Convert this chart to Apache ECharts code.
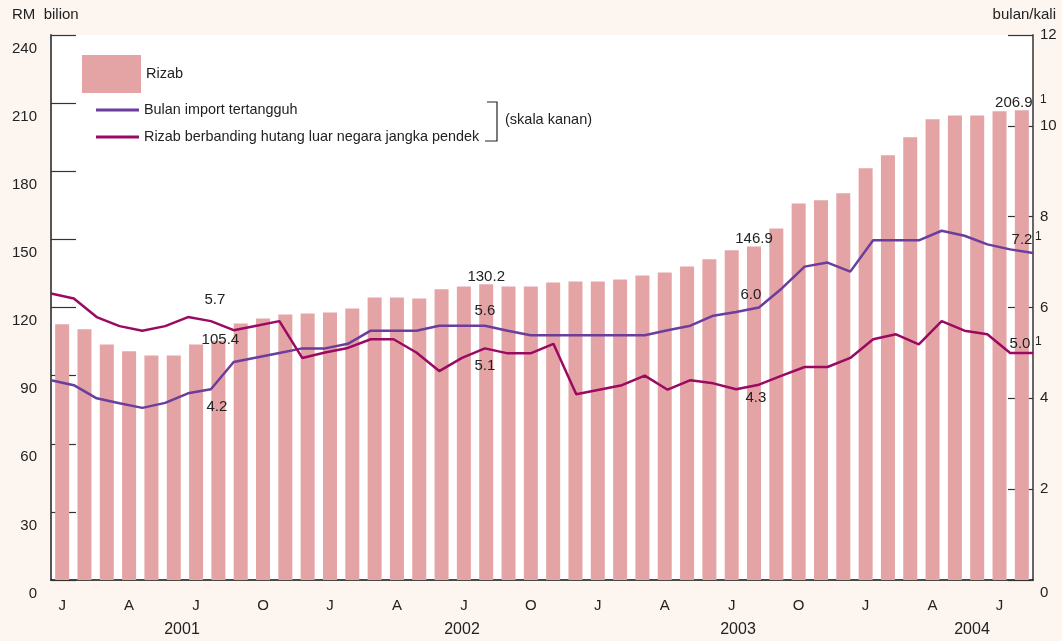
<!DOCTYPE html>
<html>
<head>
<meta charset="utf-8">
<script src="https://cdn.jsdelivr.net/npm/echarts@6/dist/echarts.min.js"></script>
<style>
    html, body { margin: 0; padding: 0; background: #fdf5ef; }
    #myChart { width: 1062px; height: 641px; }
</style>
</head>
<body>
<div id="myChart"></div>
<script>
// monthly, Jan 2001 - Aug 2004
var months = ['J', 'F', 'M', 'A', 'M', 'J', 'J', 'A', 'S', 'O', 'N', 'D'];
var years = ['2001', '2002', '2003', '2004'];
var monthCount = 44;

// RM bilion (left scale)
var rizab = [112.6, 110.4, 103.7, 100.7, 98.9, 98.9, 103.7, 105.4, 113.0, 115.2, 116.9, 117.4,
    117.8, 119.6, 124.4, 124.4, 124.0, 128.0, 129.2, 130.2, 129.2, 129.2, 131.0, 131.5,
    131.5, 132.3, 134.1, 135.4, 138.1, 141.2, 145.2, 146.9, 154.8, 165.8, 167.2, 170.3,
    181.3, 187.1, 195.0, 202.9, 204.6, 204.6, 206.4, 206.9];

// bulan / kali (right scale)
var bulanImport = [4.40, 4.29, 4.00, 3.89, 3.79, 3.90, 4.11, 4.20, 4.80, 4.90, 5.00, 5.10,
    5.10, 5.20, 5.49, 5.49, 5.49, 5.60, 5.60, 5.60, 5.49, 5.39, 5.39, 5.39,
    5.39, 5.39, 5.39, 5.50, 5.60, 5.82, 5.90, 6.00, 6.42, 6.90, 6.99, 6.79,
    7.48, 7.48, 7.48, 7.69, 7.58, 7.39, 7.28, 7.20];

var rizabHutang = [6.31, 6.20, 5.79, 5.59, 5.49, 5.59, 5.79, 5.70, 5.50, 5.60, 5.70, 4.89,
    5.01, 5.11, 5.30, 5.30, 5.01, 4.60, 4.89, 5.10, 4.99, 4.99, 5.20, 4.09,
    4.19, 4.29, 4.50, 4.19, 4.40, 4.33, 4.20, 4.30, 4.50, 4.69, 4.69, 4.89,
    5.30, 5.41, 5.19, 5.70, 5.49, 5.41, 5.00, 5.00];

var FONT = '"Liberation Sans", Arial, sans-serif';

function get_categories() {
    var cats = [];
    for (var i = 0; i < monthCount; i++) {
        cats.push(years[Math.floor(i / 12)] + '-' + (i % 12));
    }
    return cats;
}

// attach labels to the few annotated points
function with_labels(values, labelAt) {
    var out = [];
    for (var i = 0; i < values.length; i++) {
        var item = {value: values[i]};
        if (labelAt[i]) {
            item.label = Object.assign({
                show: true,
                color: '#222',
                fontSize: 15,
                fontFamily: FONT,
                formatter: function (p) { return p.value.toFixed(1); }
            }, labelAt[i]);
        }
        out.push(item);
    }
    return out;
}

function create_image() {
    var myChart = echarts.init(document.getElementById('myChart'));
    var categories = get_categories();

    var option = {
        backgroundColor: '#fdf5ef',
        animation: false,
        textStyle: {fontFamily: FONT},
        grid: {
            left: 51, right: 29, top: 35, bottom: 61,
            show: true, backgroundColor: '#fff', borderWidth: 0
        },
        legend: [{
            data: ['Rizab'],
            left: 77, top: 50,
            itemWidth: 59, itemHeight: 38,
            icon: 'rect',
            selectedMode: false,
            textStyle: {fontSize: 14.5, color: '#222', fontFamily: FONT}
        }, {
            data: ['Bulan import tertangguh', 'Rizab berbanding hutang luar negara jangka pendek'],
            orient: 'vertical',
            left: 91, top: 98,
            itemWidth: 43, itemHeight: 3, itemGap: 13,
            icon: 'rect',
            selectedMode: false,
            textStyle: {fontSize: 14.4, color: '#222', fontFamily: FONT}
        }],
        xAxis: [{
            type: 'category',
            data: categories,
            boundaryGap: true,
            axisLine: {lineStyle: {color: '#111', width: 1.5}},
            axisTick: {show: false},
            axisLabel: {
                interval: 2,
                margin: 18,
                fontSize: 15,
                color: '#222',
                formatter: function (v) { return months[parseInt(v.split('-')[1], 10)]; }
            }
        }, {
            type: 'category',
            data: categories,
            boundaryGap: false,
            show: false
        }],
        yAxis: [{
            type: 'value',
            position: 'left',
            min: 0, max: 240, interval: 30,
            splitLine: {show: false},
            axisLine: {show: true, lineStyle: {color: '#555', width: 2}},
            axisTick: {show: true, inside: true, length: 25, lineStyle: {color: '#333', width: 1.2}},
            axisLabel: {
                margin: 14, fontSize: 15, color: '#222',
                verticalAlign: 'top', padding: [6, 0, 0, 0]
            }
        }, {
            type: 'value',
            position: 'right',
            min: 0, max: 12, interval: 2,
            splitLine: {show: false},
            axisLine: {show: true, lineStyle: {color: '#666', width: 2}},
            axisTick: {show: true, inside: true, length: 25, lineStyle: {color: '#333', width: 1.2}},
            axisLabel: {
                margin: 7, fontSize: 15, color: '#222',
                formatter: function (v) { return v === 0 ? '{low|0}' : String(v); },
                rich: {low: {fontSize: 15, color: '#222', padding: [26, 0, 0, 0]}}
            }
        }],
        series: [{
            name: 'Rizab',
            type: 'bar',
            xAxisIndex: 0,
            yAxisIndex: 0,
            barWidth: 14,
            color: '#e4a3a4',
            itemStyle: {color: '#e4a3a4'},
            data: with_labels(rizab, {
                7: {position: 'top', distance: -7, offset: [2, 0]},
                19: {position: 'top', distance: 0},
                31: {position: 'top', distance: 0},
                43: {position: 'top', distance: 0, offset: [-8, 0]}
            })
        }, {
            name: 'Bulan import tertangguh',
            type: 'line',
            xAxisIndex: 1,
            yAxisIndex: 1,
            color: '#6b3d9c',
            symbol: 'circle',
            symbolSize: 1,
            showAllSymbol: true,
            lineStyle: {color: '#6b3d9c', width: 2.5},
            itemStyle: {color: '#6b3d9c'},
            data: with_labels(bulanImport, {
                7: {position: 'bottom', distance: 10, offset: [6, 0]},
                19: {position: 'top', distance: 7},
                31: {position: 'top', distance: 5, offset: [-8, 0]},
                43: {position: 'top', distance: 5, offset: [-11, 0]}
            })
        }, {
            name: 'Rizab berbanding hutang luar negara jangka pendek',
            type: 'line',
            xAxisIndex: 1,
            yAxisIndex: 1,
            color: '#9b0a62',
            symbol: 'circle',
            symbolSize: 1,
            showAllSymbol: true,
            lineStyle: {color: '#9b0a62', width: 2.5},
            itemStyle: {color: '#9b0a62'},
            data: with_labels(rizabHutang, {
                7: {position: 'top', distance: 13, offset: [4, 0]},
                19: {position: 'bottom', distance: 9},
                31: {position: 'bottom', distance: 5, offset: [-3, 0]},
                43: {position: 'top', distance: 1, offset: [-13, 0]}
            })
        }],
        graphic: [
            {type: 'text', left: 12, top: 7, style: {text: 'RM  bilion', fontSize: 15, fill: '#222', fontFamily: FONT}},
            {type: 'text', right: 6, top: 7, style: {text: 'bulan/kali', fontSize: 15, fill: '#222', fontFamily: FONT}},
            {type: 'text', x: 182, y: 630, style: {text: years[0], fontSize: 16, fill: '#222', align: 'center', verticalAlign: 'middle', fontFamily: FONT}},
            {type: 'text', x: 462, y: 630, style: {text: years[1], fontSize: 16, fill: '#222', align: 'center', verticalAlign: 'middle', fontFamily: FONT}},
            {type: 'text', x: 738, y: 630, style: {text: years[2], fontSize: 16, fill: '#222', align: 'center', verticalAlign: 'middle', fontFamily: FONT}},
            {type: 'text', x: 972, y: 630, style: {text: years[3], fontSize: 16, fill: '#222', align: 'center', verticalAlign: 'middle', fontFamily: FONT}},
            // footnote marks
            {type: 'text', x: 1040, y: 100, style: {text: '1', fontSize: 12, fill: '#222', verticalAlign: 'middle', fontFamily: FONT}},
            {type: 'text', x: 1035, y: 237, style: {text: '1', fontSize: 12, fill: '#222', verticalAlign: 'middle', fontFamily: FONT}},
            {type: 'text', x: 1035, y: 342, style: {text: '1', fontSize: 12, fill: '#222', verticalAlign: 'middle', fontFamily: FONT}},
            // bracket for right scale
            {type: 'polyline', shape: {points: [[487, 102], [497, 102], [497, 141], [485, 141]]}, style: {stroke: '#222', lineWidth: 1.2, fill: null}},
            {type: 'text', x: 505, y: 120, style: {text: '(skala kanan)', fontSize: 14.5, fill: '#222', verticalAlign: 'middle', fontFamily: FONT}}
        ]
    };
    myChart.setOption(option);
}

create_image();
</script>
</body>
</html>
